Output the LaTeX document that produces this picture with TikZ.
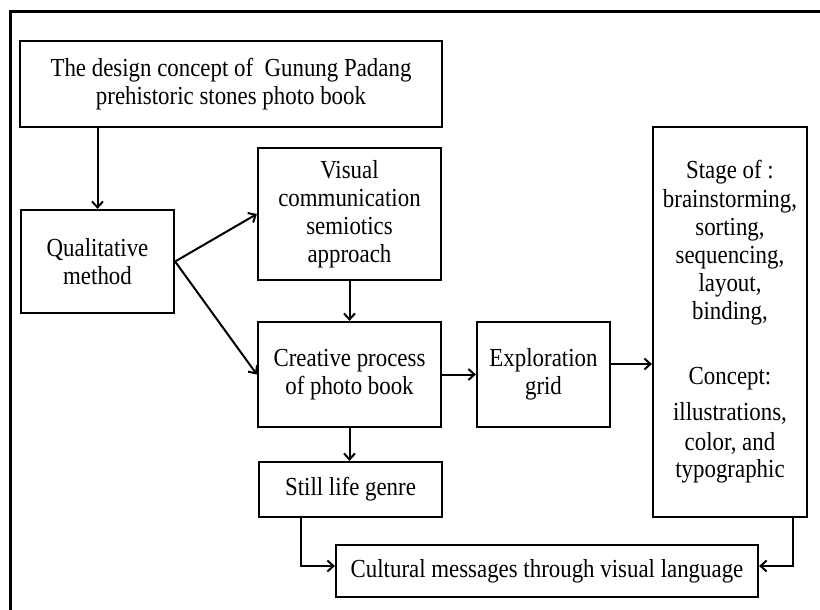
\documentclass[tikz,border=0pt]{standalone}
\usepackage{fontspec}
\setmainfont[FakeStretch=0.88]{Liberation Serif}
\usetikzlibrary{arrows.meta,calc,positioning}

\begin{document}
\begin{tikzpicture}[x=1pt,y=-1pt,
  box/.style={draw,line width=2.2pt,rectangle,inner sep=0pt,align=center,
    font=\fontsize{26}{28}\selectfont},
  arr/.style={->,line width=2pt},
  >={Straight Barb[length=6pt,width=11pt]}]
\useasboundingbox (0,0) rectangle (820,610);

%frame
\draw [line width=3pt] (10,610) -- (10,12) -- (820,12);

\node[box,minimum width=422pt,minimum height=86pt] (concept) at (231,84)
  {The design concept of\ \ Gunung Padang\\ prehistoric stones photo book};
\node[box,minimum width=153pt,minimum height=103pt] (qual) at (97.5,261.5)
  {Qualitative\\ method};
\node[box,minimum width=183pt,minimum height=132pt] (visual) at (349.5,214)
  {Visual\\ communication\\ semiotics\\ approach};
\node[box,minimum width=183pt,minimum height=105pt] (creative) at (349.5,374.5)
  {Creative process\\ of photo book};
\node[box,minimum width=133pt,minimum height=105pt] (explor) at (543.5,374.5)
  {Exploration\\ grid};
\node[box,minimum width=154pt,minimum height=390pt] (stage) at (730,322)
  {Stage of :\\[1pt] brainstorming,\\ sorting,\\ sequencing,\\ layout,\\ binding,\\[37pt]
   Concept:\\[8pt] illustrations,\\[2pt] color, and\\[-1pt] typographic};
\node[box,minimum width=183pt,minimum height=55pt] (still) at (350.5,489.5)
  {Still life genre};
\node[box,minimum width=422pt,minimum height=52pt] (cultural) at (547,571)
  {Cultural messages through visual language};

%arrows
\draw [arr] (qual.north |- concept.south) -- (qual.north);
\draw [arr] (qual.east) -- (visual.west);
\draw [arr] (qual.east) -- (creative.west);
\draw [arr] (visual.south) -- (creative.north);
\draw [arr] (creative.east) -- (explor.west);

\coordinate (e1) at ($(explor.east)+(0,-10.5)$);
\draw [arr] (e1) -- (e1 -| stage.west);

\draw [arr] (creative.south) -- (creative.south |- still.north);

\coordinate (s1) at ($(still.south)+(-49.5,0)$);
\coordinate (c1) at ($(cultural.west)+(0,-5)$);
\draw [arr] (s1) |- (c1);

\coordinate (s2) at ($(stage.south)+(63,0)$);
\coordinate (c2) at ($(cultural.east)+(0,-5)$);
\draw [arr] (s2) |- (c2);

\end{tikzpicture}
\end{document}
